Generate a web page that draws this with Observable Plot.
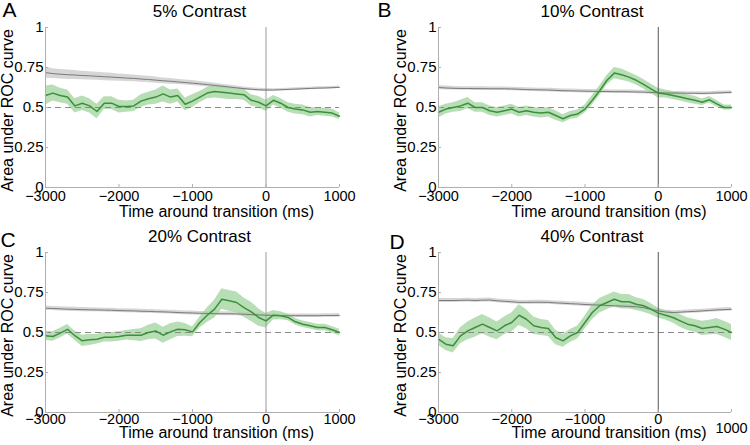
<!DOCTYPE html>
<html><head><meta charset="utf-8">
<script src="https://cdn.jsdelivr.net/npm/d3@7"></script>
<script src="https://cdn.jsdelivr.net/npm/@observablehq/plot@0.6"></script>
<style>
body{margin:0;background:#fff;}
#wrap{position:relative;width:750px;height:445px;overflow:hidden;background:#fff;}
.panel{position:absolute;}
</style></head><body><div id="wrap"></div>
<script>
const times = [-3000,-2900,-2800,-2700,-2600,-2500,-2400,-2300,-2200,-2100,-2000,-1900,-1800,-1700,-1600,-1500,-1400,-1300,-1200,-1100,-1000,-900,-800,-700,-600,-500,-400,-300,-200,-100,0,100,200,300,400,500,600,700,800,900,1000];
const xTicks = [-3000,-2000,-1000,0,1000];
const yTicks = [0,0.25,0.5,0.75,1];
const titles = ["5% Contrast","10% Contrast","20% Contrast","40% Contrast"];
const letters = ["A","B","C","D"];
const xLabel = "Time around transition (ms)";
const yLabel = "Area under ROC curve";
const chance = 0.5;

const greenA = [.575,.59,.575,.565,.51,.527,.51,.475,.527,.527,.506,.506,.51,.54,.555,.565,.585,.565,.575,.52,.54,.565,.59,.60,.595,.59,.585,.58,.545,.533,.51,.545,.527,.50,.49,.485,.47,.475,.47,.465,.445];
const seGreenA = [.06,.05,.045,.045,.045,.045,.045,.045,.04,.04,.04,.035,.035,.04,.04,.045,.05,.045,.04,.04,.04,.035,.035,.04,.04,.04,.035,.035,.035,.035,.035,.03,.03,.03,.03,.03,.03,.025,.025,.025,.02];
const grayA = [.718,.712,.708,.705,.703,.700,.698,.695,.692,.690,.687,.684,.682,.678,.675,.671,.667,.664,.660,.656,.652,.648,.643,.638,.633,.628,.623,.618,.614,.611,.609,.609,.611,.613,.615,.617,.619,.621,.622,.624,.626];
const seGrayA = [.035,.03,.03,.03,.028,.027,.026,.025,.025,.024,.023,.022,.021,.02,.02,.019,.018,.018,.017,.016,.016,.015,.015,.014,.013,.012,.011,.01,.01,.009,.009,.008,.008,.008,.008,.008,.008,.008,.008,.008,.008];

const greenB = [.47,.49,.50,.51,.527,.50,.50,.48,.47,.48,.49,.47,.48,.47,.465,.47,.45,.43,.45,.46,.49,.545,.605,.67,.715,.705,.69,.67,.645,.617,.59,.585,.575,.565,.555,.545,.533,.548,.523,.50,.50];
const seGreenB = [.035,.03,.03,.035,.035,.03,.03,.03,.03,.03,.03,.03,.03,.03,.03,.03,.03,.025,.025,.025,.025,.03,.03,.03,.035,.035,.03,.03,.03,.03,.03,.025,.025,.025,.025,.025,.02,.02,.02,.015,.015];
const grayB = [.625,.622,.620,.619,.619,.618,.618,.617,.617,.617,.616,.614,.612,.611,.610,.609,.607,.605,.604,.603,.602,.601,.600,.600,.599,.599,.598,.597,.596,.594,.592,.591,.590,.590,.589,.589,.588,.589,.591,.593,.595];
const seGrayB = [.012,.012,.011,.011,.011,.011,.011,.011,.011,.011,.011,.011,.011,.011,.011,.011,.011,.011,.011,.011,.011,.011,.011,.011,.011,.011,.011,.011,.011,.011,.011,.01,.01,.01,.01,.01,.01,.01,.01,.01,.01];

const greenC = [.48,.475,.496,.52,.48,.448,.454,.458,.47,.47,.475,.483,.483,.483,.50,.51,.483,.504,.52,.517,.504,.5625,.608,.646,.708,.698,.6875,.656,.629,.594,.573,.608,.604,.594,.567,.552,.542,.531,.531,.517,.50];
const seGreenC = [.03,.03,.03,.03,.03,.035,.035,.03,.03,.03,.03,.03,.035,.04,.045,.05,.05,.05,.045,.04,.03,.035,.045,.055,.065,.065,.065,.06,.06,.055,.045,.03,.025,.02,.02,.02,.02,.02,.02,.02,.02];
const grayC = [.652,.650,.648,.646,.645,.643,.642,.641,.640,.639,.637,.636,.635,.633,.632,.630,.629,.627,.625,.623,.622,.620,.619,.618,.617,.617,.616,.614,.612,.610,.608,.607,.606,.605,.605,.605,.605,.605,.606,.606,.607];
const seGrayC = [.013,.013,.013,.013,.013,.013,.013,.012,.012,.012,.012,.012,.012,.012,.012,.012,.012,.012,.012,.012,.012,.012,.012,.012,.012,.012,.012,.012,.012,.011,.011,.011,.011,.011,.011,.011,.011,.011,.011,.011,.011];

const greenD = [.458,.427,.417,.479,.51,.531,.552,.531,.51,.542,.5625,.608,.583,.542,.531,.525,.469,.448,.479,.50,.5625,.625,.667,.6875,.708,.692,.692,.677,.667,.646,.621,.608,.594,.573,.552,.542,.525,.531,.5375,.521,.50];
const seGreenD = [.04,.04,.045,.05,.055,.06,.06,.06,.055,.055,.06,.065,.06,.055,.05,.05,.045,.04,.04,.04,.04,.045,.045,.045,.045,.045,.045,.04,.04,.035,.03,.03,.035,.04,.04,.04,.045,.045,.05,.05,.05];
const grayD = [.700,.700,.700,.701,.702,.700,.702,.703,.698,.695,.692,.688,.688,.689,.689,.688,.685,.683,.680,.678,.675,.673,.671,.669,.667,.665,.663,.661,.655,.645,.635,.628,.625,.627,.630,.632,.635,.638,.641,.643,.645];
const seGrayD = [.012,.012,.012,.012,.012,.012,.012,.012,.012,.012,.012,.012,.012,.012,.012,.012,.012,.012,.012,.012,.012,.012,.012,.012,.012,.012,.012,.012,.012,.012,.012,.011,.011,.011,.011,.011,.011,.011,.011,.011,.011];

const font = '"Liberation Sans", Arial, Helvetica, sans-serif';
const fmtX = d => (d < 0 ? "\u2212" : "") + Math.abs(d);

const panels = [
  {green: greenA, seG: seGreenA, gray: grayA, seK: seGrayA, left: 0, top: 0, h: 222, mL: 45, mR: 36, mT: 27, mB: 35, zero: "#9a9a9a", letterX: 2, letterBase: 16, xPad: 3, xLabDy: 24, lift1000: 0},
  {green: greenB, seG: seGreenB, gray: grayB, seK: seGrayB, left: 375, top: 0, h: 222, mL: 63, mR: 19, mT: 27, mB: 35, zero: "#555", letterX: 2, letterBase: 16, xPad: 3, xLabDy: 24, lift1000: 0},
  {green: greenC, seG: seGreenC, gray: grayC, seK: seGrayC, left: 0, top: 222, h: 223, mL: 45, mR: 36, mT: 30, mB: 33, zero: "#9a9a9a", letterX: 0, letterBase: 24, xPad: 1, xLabDy: 20, lift1000: 0},
  {green: greenD, seG: seGreenD, gray: grayD, seK: seGrayD, left: 375, top: 222, h: 223, mL: 63, mR: 19, mT: 30, mB: 33, zero: "#555", letterX: 14, letterBase: 26, xPad: 1, xLabDy: 20, lift1000: 9}
];

const wrap = document.getElementById("wrap");
panels.forEach((p, i) => {
  const rows = times.map((t, j) => ({t, g: p.green[j], gs: p.seG[j], k: p.gray[j], ks: p.seK[j]}));
  const plotW = 375 - p.mL - p.mR;
  const plotH = p.h - p.mT - p.mB;
  const marks = [
    Plot.areaY(rows, {x: "t", y1: d => d.k - d.ks, y2: d => d.k + d.ks, fill: "#cfcfcf", fillOpacity: 0.85}),
    Plot.areaY(rows, {x: "t", y1: d => d.g - d.gs, y2: d => d.g + d.gs, fill: "#a5d6a3", fillOpacity: 0.8}),
    Plot.ruleY([chance], {stroke: "#8a8a8a", strokeDasharray: "6,4", strokeWidth: 1}),
    Plot.ruleX([0], {stroke: p.zero, strokeWidth: 1}),
    Plot.lineY(rows, {x: "t", y: "k", stroke: "#7a7a7a", strokeWidth: 1}),
    Plot.lineY(rows, {x: "t", y: "g", stroke: "#3b913b", strokeWidth: 1.5}),
    Plot.ruleX([xTicks[0]], {stroke: "#b0b0b0"}),
    Plot.ruleY([yTicks[0]], {stroke: "#b0b0b0"}),
    Plot.tickX(xTicks, {x: d => d, insetTop: plotH - 3, stroke: "#b0b0b0"}),
    Plot.tickY(yTicks, {y: d => d, insetRight: plotW - 3, stroke: "#b0b0b0"}),
    Plot.axisY({ticks: yTicks, tickSize: 0, tickPadding: 2, tickFormat: d => String(d), label: null, fontSize: 15}),
    Plot.axisX({ticks: p.lift1000 ? xTicks.slice(0, 4) : xTicks, tickSize: 0, tickPadding: p.xPad, tickFormat: fmtX, label: null, fontSize: 14.5}),
    Plot.text([yLabel], {frameAnchor: "left", dx: -38, dy: 3, rotate: -90, fontSize: 16, textAnchor: "middle", lineAnchor: "middle"}),
    Plot.text([xLabel], {frameAnchor: "bottom", dx: 24, dy: p.xLabDy, fontSize: 16, lineAnchor: "middle"}),
    Plot.text([titles[i]], {frameAnchor: "top", dx: 7, dy: -16, fontSize: 17, lineAnchor: "middle"}),
    Plot.text([letters[i]], {frameAnchor: "top-left", dx: p.letterX - p.mL, dy: p.letterBase - p.mT, textAnchor: "start", lineAnchor: "bottom", fontSize: 21})
  ];
  if (p.lift1000) {
    marks.push(Plot.axisX({ticks: xTicks.slice(4), tickSize: 0, tickPadding: p.xPad + p.lift1000, tickFormat: fmtX, label: null, fontSize: 14.5}));
  }
  const chart = Plot.plot({
    width: 375, height: p.h,
    marginLeft: p.mL, marginRight: p.mR, marginTop: p.mT, marginBottom: p.mB,
    x: {domain: [xTicks[0], xTicks[xTicks.length - 1]]},
    y: {domain: [yTicks[0], yTicks[yTicks.length - 1]]},
    style: {fontFamily: font, fontSize: "14px", color: "#000", background: "transparent"},
    marks
  });
  const div = document.createElement("div");
  div.className = "panel";
  div.style.left = p.left + "px";
  div.style.top = p.top + "px";
  div.appendChild(chart);
  wrap.appendChild(div);
});
</script></body></html>
